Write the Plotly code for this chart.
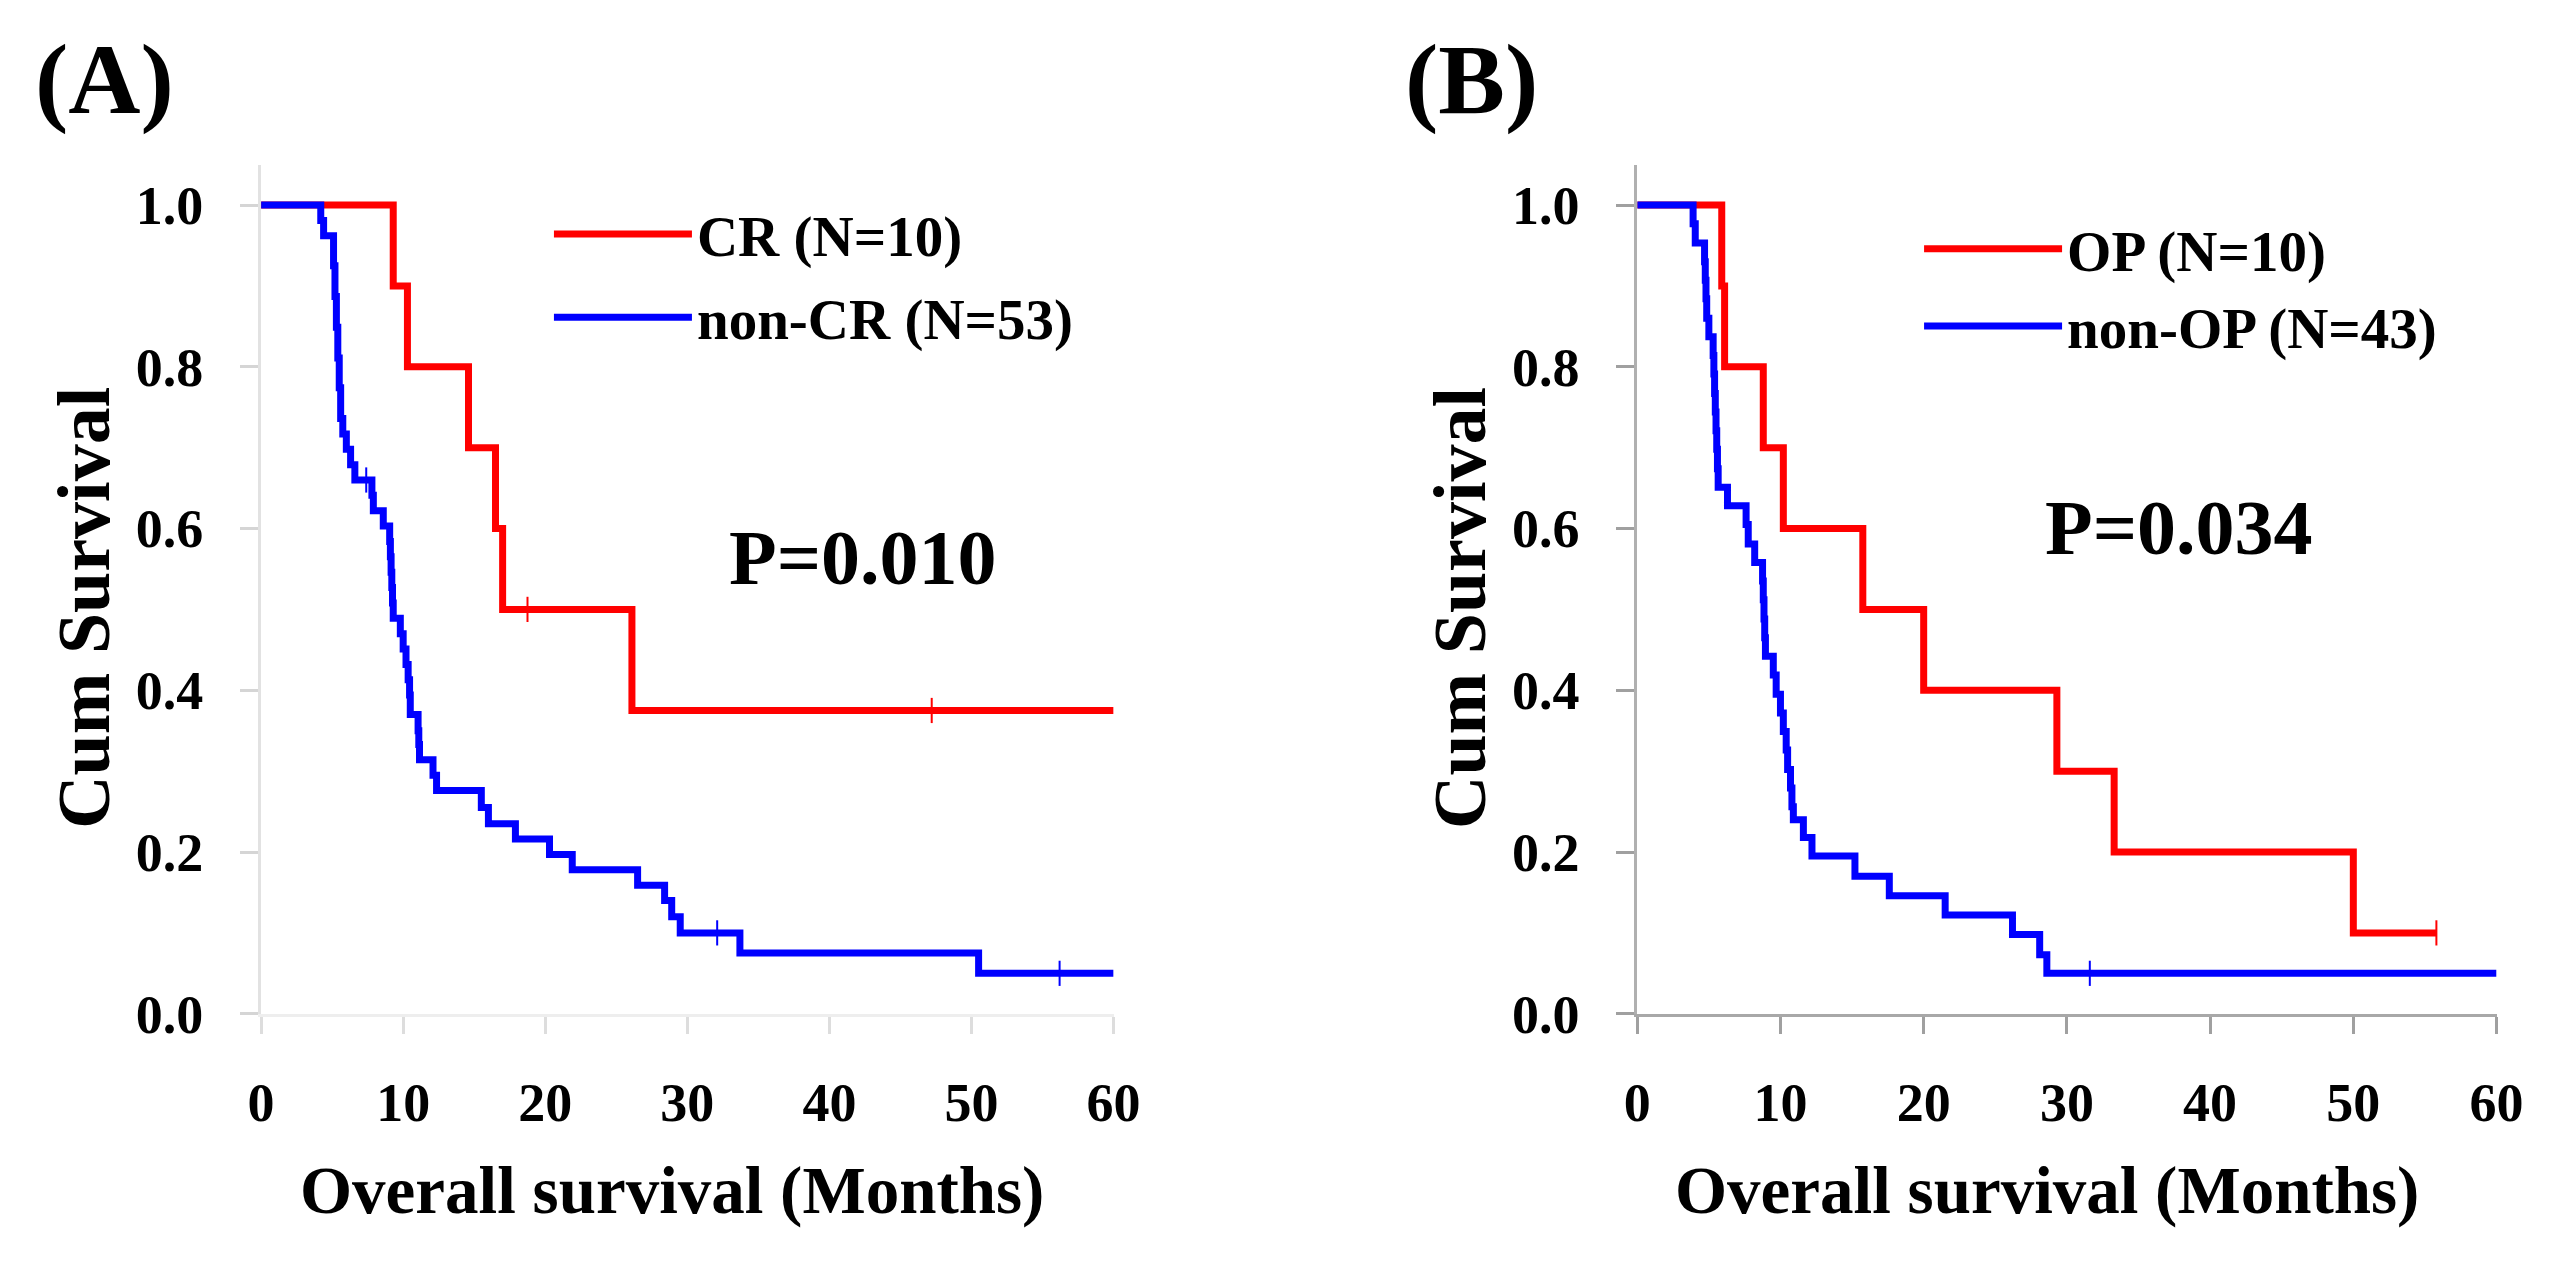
import plotly.graph_objects as go

# ---------------- data ----------------
# Panel A
cr_times = [9.3, 10.3, 14.6, 16.5, 17.0, 26.1]
cr_surv = [0.9, 0.8, 0.7, 0.6, 0.5, 0.375]
cr_end = 60
cr_censor = [18.75, 47.2]

ncr_times = [4.2, 4.4, 5.1, 5.2, 5.3, 5.4, 5.5, 5.6, 5.75, 6.0, 6.3, 6.6,
             7.8, 7.9, 8.6, 9.05, 9.1, 9.15, 9.2, 9.25, 9.3, 9.8, 10.0, 10.2,
             10.35, 10.45, 10.5, 11.05, 11.1, 11.15, 12.1, 12.35, 15.5, 16.0,
             17.9, 20.3, 21.9, 26.5, 28.4, 28.9, 29.5, 33.7, 50.5]
ncr_surv = [0.981, 0.962, 0.925, 0.887, 0.849, 0.811, 0.774, 0.736, 0.717,
            0.698, 0.679, 0.660, 0.641, 0.622, 0.603, 0.584, 0.565, 0.546,
            0.527, 0.508, 0.489, 0.470, 0.451, 0.432, 0.413, 0.394, 0.370,
            0.350, 0.333, 0.314, 0.295, 0.276, 0.255, 0.235, 0.216, 0.197,
            0.178, 0.159, 0.140, 0.120, 0.100, 0.075, 0.050]
ncr_end = 60
ncr_censor = [7.4, 32.1, 56.2]

# Panel B
op_times = [5.9, 6.1, 8.8, 10.2, 15.75, 20.0, 29.3, 33.3, 50.0]
op_surv = [0.9, 0.8, 0.7, 0.6, 0.5, 0.4, 0.3, 0.2, 0.1]
op_end = 55.8
op_censor = [55.8]

nop_times = [3.9, 4.05, 4.7, 4.75, 4.8, 4.85, 5.0, 5.3, 5.35, 5.4, 5.45, 5.5,
             5.55, 5.6, 5.65, 6.3, 7.6, 7.75, 8.2, 8.75, 8.8, 8.85, 8.9, 8.95,
             9.5, 9.7, 10.0, 10.2, 10.4, 10.5, 10.7, 10.8, 10.9, 11.6, 12.2,
             15.2, 17.6, 21.5, 26.2, 28.1, 28.6]
nop_surv = [0.977, 0.953, 0.930, 0.907, 0.884, 0.860, 0.837, 0.814, 0.791,
            0.767, 0.744, 0.721, 0.698, 0.674, 0.651, 0.628, 0.605, 0.581,
            0.558, 0.535, 0.512, 0.488, 0.465, 0.442, 0.419, 0.395, 0.372,
            0.349, 0.326, 0.302, 0.279, 0.256, 0.240, 0.218, 0.195, 0.170,
            0.146, 0.122, 0.098, 0.073, 0.050]
nop_end = 60
nop_censor = [31.6]

x_ticks = [0, 10, 20, 30, 40, 50, 60]
y_ticks = [0.0, 0.2, 0.4, 0.6, 0.8, 1.0]
y_ticktext = ["0.0", "0.2", "0.4", "0.6", "0.8", "1.0"]

labels_a = ["CR (N=10)", "non-CR (N=53)"]
labels_b = ["OP (N=10)", "non-OP (N=43)"]
p_a = "P=0.010"
p_b = "P=0.034"

RED = "#ff0000"
BLUE = "#0000ff"
FONT = "Liberation Serif"


def km_xy(times, surv, end):
    xs = [0] + list(times) + [end]
    ys = [1.0] + list(surv) + [surv[-1]]
    return xs, ys


def surv_at(times, surv, t):
    s = 1.0
    for ti, si in zip(times, surv):
        if ti <= t:
            s = si
    return s


fig = go.Figure()


def add_curve(times, surv, end, censor, color, name, xa, ya, legend, group):
    xs, ys = km_xy(times, surv, end)
    fig.add_trace(go.Scatter(x=xs, y=ys, mode="lines", line=dict(color=color, width=7, shape="hv"),
                             name=name, xaxis=xa, yaxis=ya, legend=legend, legendgroup=group,
                             hoverinfo="skip"))
    fig.add_trace(go.Scatter(x=censor, y=[surv_at(times, surv, t) for t in censor], mode="markers",
                             marker=dict(symbol="line-ns", size=18, line=dict(color=color, width=2)),
                             xaxis=xa, yaxis=ya, showlegend=False, legendgroup=group,
                             hoverinfo="skip", cliponaxis=False))


add_curve(cr_times, cr_surv, cr_end, cr_censor, RED, labels_a[0], "x", "y", "legend", "a1")
add_curve(ncr_times, ncr_surv, ncr_end, ncr_censor, BLUE, labels_a[1], "x", "y", "legend", "a2")
add_curve(op_times, op_surv, op_end, op_censor, RED, labels_b[0], "x2", "y2", "legend2", "b1")
add_curve(nop_times, nop_surv, nop_end, nop_censor, BLUE, labels_b[1], "x2", "y2", "legend2", "b2")

tickfont = dict(family=FONT, size=54, color="black", weight="bold")


def xaxis(domain, anchor, linecolor, tickcolor):
    return dict(domain=domain, anchor=anchor, range=[0, 60], tickvals=x_ticks,
                showline=True, linecolor=linecolor, linewidth=3, ticks="outside",
                ticklen=17, tickwidth=3, tickcolor=tickcolor, showgrid=False,
                zeroline=False, tickfont=tickfont, ticklabelstandoff=22, fixedrange=True)


def yaxis(domain, anchor, linecolor, tickcolor):
    return dict(domain=domain, anchor=anchor, range=[0, 1.05], tickvals=y_ticks,
                ticktext=y_ticktext, showline=True, linecolor=linecolor, linewidth=3,
                ticks="outside", ticklen=18, tickwidth=3, tickcolor=tickcolor,
                showgrid=False, zeroline=False, tickfont=tickfont,
                ticklabelstandoff=26, fixedrange=True)


ydom = [0.1843, 0.873]
legfont = dict(family=FONT, size=57, color="black", weight="bold")

fig.update_layout(
    width=2554, height=1264,
    margin=dict(l=0, r=0, t=0, b=0),
    paper_bgcolor="white", plot_bgcolor="white",
    xaxis=xaxis([0.0955, 0.4346], "y", "#eeeeee", "#dddddd"),
    yaxis=yaxis(ydom, "x", "#e2e2e2", "#d5d5d5"),
    xaxis2=xaxis([0.6429, 0.9847], "y2", "#a8a8a8", "#a0a0a0"),
    yaxis2=yaxis(ydom, "x2", "#b0b0b0", "#a0a0a0"),
    legend=dict(x=0.21, y=0.852, xanchor="left", yanchor="top", font=legfont,
                itemwidth=138, bgcolor="rgba(0,0,0,0)", tracegroupgap=6,
                itemclick=False, itemdoubleclick=False),
    legend2=dict(x=0.755, y=0.84, xanchor="left", yanchor="top", font=legfont,
                 itemwidth=138, bgcolor="rgba(0,0,0,0)", tracegroupgap=0,
                 itemclick=False, itemdoubleclick=False),
    showlegend=True,
)

ann_font = lambda s: dict(family=FONT, size=s, color="black", weight="bold")
annotations = [
    dict(text="(A)", x=0.0333, y=0.942, font=ann_font(100)),
    dict(text="(B)", x=0.577, y=0.942, font=ann_font(100)),
    dict(text=p_a, x=0.335, y=0.554, font=ann_font(78)),
    dict(text=p_b, x=0.8583, y=0.579, font=ann_font(78)),
    dict(text="Overall survival (Months)", x=0.2588, y=0.041, font=ann_font(67)),
    dict(text="Overall survival (Months)", x=0.8058, y=0.041, font=ann_font(67)),
    dict(text="Cum Survival", x=0.025, y=0.5134, textangle=-90, font=ann_font(74)),
    dict(text="Cum Survival", x=0.5724, y=0.5134, textangle=-90, font=ann_font(74)),
]
for a in annotations:
    a.update(xref="paper", yref="paper", xanchor="center", yanchor="middle", showarrow=False)
fig.update_layout(annotations=annotations)

fig.write_html("out.html", config={"displayModeBar": False})
